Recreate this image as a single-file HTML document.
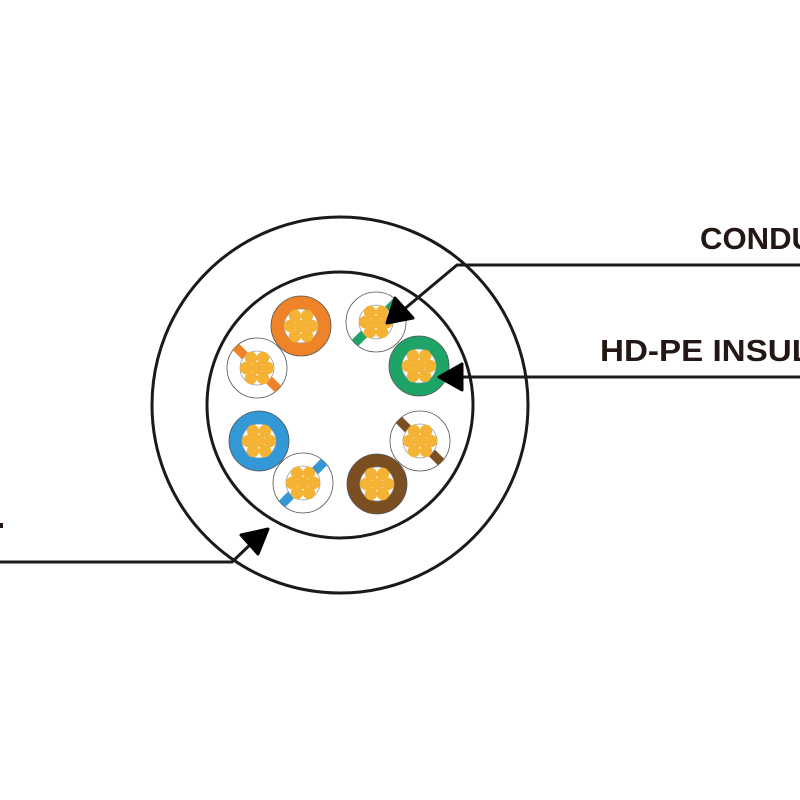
<!DOCTYPE html>
<html><head><meta charset="utf-8"><style>html,body{margin:0;padding:0;background:#fff;}svg{display:block}</style></head>
<body>
<svg width="800" height="800" viewBox="0 0 800 800" xmlns="http://www.w3.org/2000/svg">
<defs>
  <g id="cond">
    <circle r="17" fill="#fff" stroke="#999" stroke-width="0.8"/>
    <circle cx="-6" cy="-10" r="6.2" fill="#f5b335"/>
    <circle cx="6" cy="-10" r="6.2" fill="#f5b335"/>
    <circle cx="-11" cy="0" r="6.2" fill="#f5b335"/>
    <circle cx="0" cy="0" r="6.2" fill="#f5b335"/>
    <circle cx="11" cy="0" r="6.2" fill="#f5b335"/>
    <circle cx="-6" cy="10" r="6.2" fill="#f5b335"/>
    <circle cx="6" cy="10" r="6.2" fill="#f5b335"/>
  </g>
</defs>
<circle cx="340" cy="405" r="188" fill="none" stroke="#1a1a1a" stroke-width="3"/>
<circle cx="340" cy="405" r="133" fill="none" stroke="#1a1a1a" stroke-width="3"/>

<g transform="translate(301,326)"><circle r="30" fill="#ee8427" stroke="#555" stroke-width="0.8"/><use href="#cond"/></g>
<g transform="translate(419,366)"><circle r="30" fill="#1ea466" stroke="#555" stroke-width="0.8"/><use href="#cond"/></g>
<g transform="translate(377,484)"><circle r="30" fill="#7b4f22" stroke="#555" stroke-width="0.8"/><use href="#cond"/></g>
<g transform="translate(259,441)"><circle r="30" fill="#3398d6" stroke="#555" stroke-width="0.8"/><use href="#cond"/></g>

<g transform="translate(257,368)"><circle r="30" fill="#fff" stroke="#555" stroke-width="0.8"/><line x1="-21" y1="-21" x2="21" y2="21" stroke="#ee8427" stroke-width="9"/><use href="#cond"/></g>
<g transform="translate(376,322)"><circle r="30" fill="#fff" stroke="#555" stroke-width="0.8"/><line x1="21" y1="-21" x2="-21" y2="21" stroke="#1ea466" stroke-width="9"/><use href="#cond"/></g>
<g transform="translate(420,441)"><circle r="30" fill="#fff" stroke="#555" stroke-width="0.8"/><line x1="-21" y1="-21" x2="21" y2="21" stroke="#7b4f22" stroke-width="9"/><use href="#cond"/></g>
<g transform="translate(303,483)"><circle r="30" fill="#fff" stroke="#555" stroke-width="0.8"/><line x1="21" y1="-21" x2="-21" y2="21" stroke="#3398d6" stroke-width="9"/><use href="#cond"/></g>

<polyline points="800,265 457,265 402,311" fill="none" stroke="#1a1a1a" stroke-width="3"/>
<polygon points="387,323 395,298 413,318" fill="#000" stroke="#000" stroke-width="3" stroke-linejoin="round"/>
<line x1="800" y1="377" x2="455" y2="377" stroke="#1a1a1a" stroke-width="3"/>
<polygon points="439,377 462,364 462,390" fill="#000" stroke="#000" stroke-width="3" stroke-linejoin="round"/>
<polyline points="0,562 232,562 254,541" fill="none" stroke="#1a1a1a" stroke-width="3"/>
<polygon points="268,529 241,535 258,554" fill="#000" stroke="#000" stroke-width="3" stroke-linejoin="round"/>
<rect x="0" y="523" width="3" height="5" fill="#231815"/>

<text x="700" y="249" font-family="'Liberation Sans', sans-serif" font-weight="bold" font-size="31" fill="#231815" textLength="114" lengthAdjust="spacingAndGlyphs">CONDU</text>
<text x="600" y="361" font-family="'Liberation Sans', sans-serif" font-weight="bold" font-size="31" fill="#231815" textLength="212" lengthAdjust="spacingAndGlyphs">HD-PE INSUL</text>
</svg>
</body></html>
